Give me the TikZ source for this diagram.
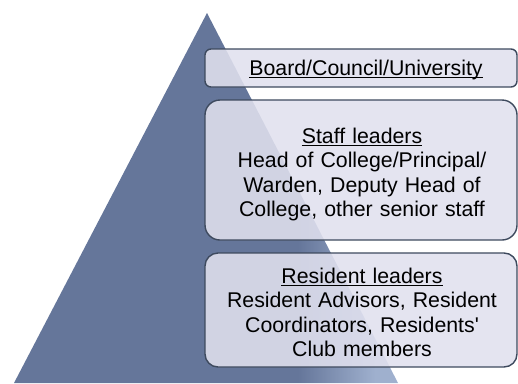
\documentclass[tikz,border=0pt]{standalone}
\usepackage{fontspec}
\setmainfont{Liberation Sans}
\usepackage{tikz}
\usetikzlibrary{positioning}
\usetikzlibrary{shapes,backgrounds,calc}
\definecolor{pyrdark}{HTML}{65769A}
\definecolor{pyrlight}{HTML}{9FB0CE}
\definecolor{boxfill}{HTML}{E0E0EE}
\definecolor{boxline}{HTML}{3E4A5E}
\pgfdeclarehorizontalshading{pyrshade}{100bp}{
    color(0bp)=(pyrdark); color(62bp)=(pyrdark); color(72bp)=(pyrlight); color(100bp)=(pyrlight)}
\newcommand{\head}[1]{\underline{\raisebox{0pt}[\height][0pt]{#1}}}
\tikzset{
    tier/.style={rectangle, draw=boxline, line width=1.4pt, fill=boxfill,
        fill opacity=0.88, minimum width=312pt, inner sep=0pt},
    tiertext/.style={anchor=north, align=center, text width=300pt, inner sep=0pt,
        font=\fontsize{21.3}{24.2}\selectfont}
}

\begin{document}
\begin{tikzpicture}[x=1pt, y=-1pt]
    \useasboundingbox (0,0) rectangle (518,383);
    % pyramid
    \begin{scope}
        \clip (0,0) rectangle (518,383);
        \shade[shading=pyrshade] (207,13) -- (398,383) -- (14,383) -- cycle;
    \end{scope}
    % tiers
    \path
        node (board) at (361,68) [tier, rounded corners=6pt, minimum height=38pt] {}
        node (staff) at (361,170) [tier, rounded corners=15pt, minimum height=140pt] {}
        node (resident) at (361,310) [tier, rounded corners=13pt, minimum height=114pt] {};
    \path
        node (boardtext) at (366,60) [tiertext] { \head{Board/Council/University} }
        node (stafftext) at (362,128) [tiertext]
            { \head{Staff leaders}\\ Head of College/Principal/\\ Warden, Deputy Head of\\ College, other senior staff }
        node (residenttext) at (362,268) [tiertext]
            { \head{Resident leaders}\\ Resident Advisors, Resident\\ Coordinators, Residents\textquotesingle\\ Club members };
\end{tikzpicture}
\end{document}
